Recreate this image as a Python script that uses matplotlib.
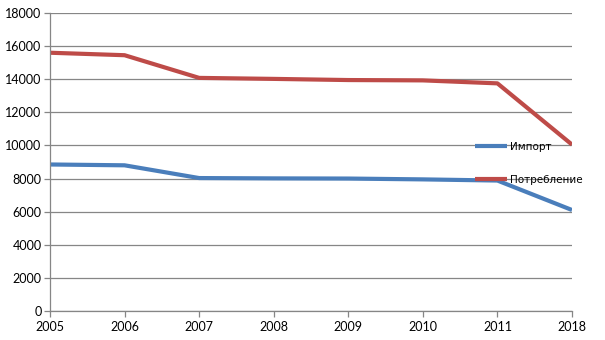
import matplotlib
matplotlib.use("Agg")
import matplotlib.pyplot as plt

years = ["2005", "2006", "2007", "2008", "2009", "2010", "2011", "2018"]
imports = [8850, 8800, 8030, 8010, 8000, 7950, 7880, 6100]
consumption = [15600, 15450, 14080, 14020, 13950, 13930, 13750, 10050]

BLUE = "#4A7EBB"
RED = "#BE4B48"

plt.rcParams["font.family"] = ["Lato", "DejaVu Sans"]

fig = plt.figure(figsize=(6.05, 3.4), dpi=100)
ax = fig.add_axes([50 / 605, 1 - 311 / 340, 522 / 605, 298 / 340])

x = list(range(len(years)))
ax.plot(x, imports, color=BLUE, lw=3.0, label="Импорт", solid_capstyle="butt")
ax.plot(x, consumption, color=RED, lw=3.0, label="Потребление", solid_capstyle="butt")

ax.set_xlim(0, len(years) - 1)
ax.set_ylim(0, 18000)
ax.set_yticks(range(0, 18001, 2000))
ax.set_xticks(x)
ax.set_xticklabels(years)

ax.grid(axis="y", color="#868686", lw=0.9)
ax.set_axisbelow(True)
for s in ["top", "right"]:
    ax.spines[s].set_visible(False)
for s in ["left", "bottom"]:
    ax.spines[s].set_color("#868686")
    ax.spines[s].set_linewidth(0.9)
ax.tick_params(axis="both", colors="#868686", labelcolor="black", labelsize=9, length=4, width=0.9)
ax.tick_params(axis="x", pad=3)
ax.tick_params(axis="y", pad=2)

leg = ax.legend(loc="center left", bbox_to_anchor=(0.815, 0.495), frameon=False,
                prop={"family": "DejaVu Sans", "size": 7.5}, handlelength=3.0,
                handletextpad=0.3, labelspacing=2.2, borderpad=0, borderaxespad=0)

fig.savefig("out.png", dpi=100)
